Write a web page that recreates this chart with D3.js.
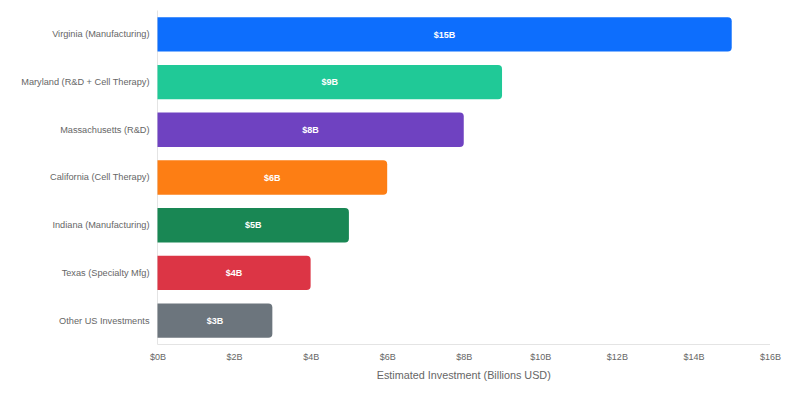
<!DOCTYPE html>
<html>
<head>
<meta charset="utf-8">
<script src="https://cdn.jsdelivr.net/npm/d3@7"></script>
<style>
  body { margin: 0; background: #fff; }
  svg { display: block; font-family: "Liberation Sans", Arial, Helvetica, sans-serif; }
</style>
</head>
<body>
<svg id="chart" width="793" height="398"></svg>
<script>
const categories = [
  'Virginia (Manufacturing)',
  'Maryland (R&D + Cell Therapy)',
  'Massachusetts (R&D)',
  'California (Cell Therapy)',
  'Indiana (Manufacturing)',
  'Texas (Specialty Mfg)',
  'Other US Investments'
]
const investment = [15, 9, 8, 6, 5, 4, 3]
const barColors = ['#0d6efd', '#20c997', '#6f42c1', '#fd7e14', '#198754', '#dc3545', '#6c757d']
const xTicks = [0, 2, 4, 6, 8, 10, 12, 14, 16]
const xTitle = 'Estimated Investment (Billions USD)'

const svg = d3.select('#chart')
const plotLeft = 157.5
const plotRight = 770
const plotTop = 10.5
const plotBottom = 344.5

const x = d3.scaleLinear().domain([0, 16]).range([plotLeft, plotRight])
const y = d3.scaleBand().domain(categories).range([plotTop, plotBottom]).paddingInner(0.28).paddingOuter(0.14)

// axis lines (light)
svg.append('line')
  .attr('x1', plotLeft).attr('x2', plotLeft).attr('y1', plotTop).attr('y2', plotBottom)
  .attr('stroke', '#e4e4e4').attr('stroke-width', 1)
svg.append('line')
  .attr('x1', plotLeft).attr('x2', plotRight).attr('y1', plotBottom).attr('y2', plotBottom)
  .attr('stroke', '#e4e4e4').attr('stroke-width', 1)

// bars with rounded right end
const r = 4
const barPath = (d, i) => {
  const x0 = x(0), x1 = x(d), y0 = y(categories[i]), h = y.bandwidth()
  return `M${x0},${y0}H${x1 - r}Q${x1},${y0} ${x1},${y0 + r}V${y0 + h - r}Q${x1},${y0 + h} ${x1 - r},${y0 + h}H${x0}Z`
}

svg.selectAll('.bar')
  .data(investment)
  .enter()
  .append('path')
  .attr('class', 'bar')
  .attr('d', barPath)
  .attr('fill', (d, i) => barColors[i])

svg.selectAll('.bar-label')
  .data(investment)
  .enter()
  .append('text')
  .attr('class', 'bar-label')
  .attr('x', d => (x(0) + x(d)) / 2)
  .attr('y', (d, i) => y(categories[i]) + y.bandwidth() / 2)
  .attr('dy', '0.35em')
  .attr('text-anchor', 'middle')
  .attr('fill', '#fff')
  .attr('font-weight', 'bold')
  .attr('font-size', 9)
  .text(d => `$${d}B`)

// y labels
svg.append('g')
  .attr('transform', `translate(${plotLeft}, 0)`)
  .call(d3.axisLeft(y).tickSize(0).tickPadding(8))
  .call(g => g.select('.domain').remove())
  .call(g => g.selectAll('text')
    .attr('font-size', 9.2)
    .attr('fill', '#666')
    .attr('font-family', '"Liberation Sans", Arial, sans-serif'))

// x axis
svg.append('g')
  .attr('transform', `translate(0, ${plotBottom})`)
  .call(d3.axisBottom(x).tickValues(xTicks).tickSize(0).tickPadding(9).tickFormat(d => `$${d}B`))
  .call(g => g.select('.domain').remove())
  .call(g => g.selectAll('text')
    .attr('font-size', 9)
    .attr('fill', '#666')
    .attr('font-family', '"Liberation Sans", Arial, sans-serif'))

svg.append('text')
  .attr('x', (plotLeft + plotRight) / 2)
  .attr('y', 379)
  .attr('text-anchor', 'middle')
  .attr('font-size', 10.8)
  .attr('fill', '#666')
  .text(xTitle)
</script>
</body>
</html>
